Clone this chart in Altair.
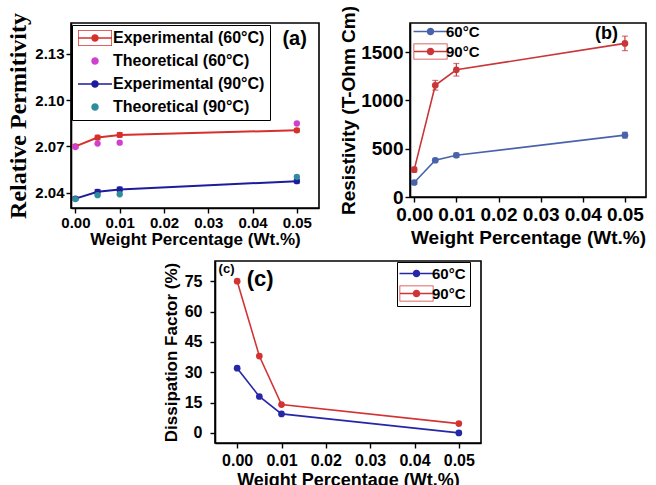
import altair as alt
import pandas as pd

# ---------------- data ----------------
wt = [0.0, 0.005, 0.01, 0.05]
wt_ticks = [0.0, 0.01, 0.02, 0.03, 0.04, 0.05]

# panel (a) relative permittivity
a_series = ["Experimental (60°C)", "Theoretical (60°C)", "Experimental (90°C)", "Theoretical (90°C)"]
a_exp60 = [2.0700, 2.0757, 2.0774, 2.0804]
a_th60 = [2.0695, 2.0718, 2.0724, 2.0848]
a_exp90 = [2.0361, 2.0405, 2.0420, 2.0474]
a_th90 = [2.0358, 2.0383, 2.0389, 2.0502]
a_err = [0.0012, 0.0015, 0.0015, 0.0012]
a_yticks = [2.04, 2.07, 2.10, 2.13]

# panel (b) resistivity
b_series = ["60°C", "90°C"]
b_60 = [150, 380, 432, 640]
b_90 = [283, 1156, 1316, 1589]
b_err60 = [20, 18, 22, 30]
b_err90 = [25, 50, 65, 75]
b_yticks = [0, 500, 1000, 1500]

# panel (c) dissipation factor
c_series = ["60°C", "90°C"]
c_60 = [32, 18, 9.4, 0]
c_90 = [75, 38, 14, 4.6]
c_yticks = [0, 15, 30, 45, 60, 75]

# panel labels (data coordinates)
a_label = {"wt": [0.0495], "v": [2.1398], "t": ["(a)"]}
b_label = {"wt": [0.0456], "v": [1684], "t": ["(b)"]}
c_label_small = {"wt": [-0.0024], "v": [81], "t": ["(c)"]}
c_label_big = {"wt": [0.0052], "v": [76], "t": ["(c)"]}

# ---------------- styles ----------------
SANS = "Liberation Sans"
SERIF = "Liberation Serif"

a_colors = ["#d6302c", "#d040d0", "#1c1c9c", "#2f8c9c"]
b_colors = ["#4a62aa", "#c8363a"]
c_colors = ["#2626a8", "#d23434"]

DOT = "M0.75,0A0.75,0.75 0 1,1 -0.75,0A0.75,0.75 0 1,1 0.75,0Z"
LINE_DOT = ("M-3.4,-0.17L3.4,-0.17L3.4,0.17L-3.4,0.17Z "
            "M0.75,0A0.75,0.75 0 1,1 -0.75,0A0.75,0.75 0 1,1 0.75,0Z")
BOX_LINE_DOT = ("M-3.4,-1.6L3.4,-1.6L3.4,1.6L-3.4,1.6Z "
                "M-3.25,-1.45L-3.25,1.45L3.25,1.45L3.25,-1.45Z "
                "M-3.4,-0.17L3.4,-0.17L3.4,0.17L-3.4,0.17Z "
                "M0.75,0A0.75,0.75 0 1,1 -0.75,0A0.75,0.75 0 1,1 0.75,0Z")

AXIS_COMMON = dict(grid=False, domainColor="black", domainWidth=1.6, tickColor="black",
                   tickWidth=1.4, tickSize=5, labelColor="black", titleColor="black",
                   labelFont=SANS, labelFontWeight="bold", titleFontWeight="bold")


def long_df(series, values, colors, errs=None):
    rows = []
    for i, (s, vals, col) in enumerate(zip(series, values, colors)):
        for j, (x, v) in enumerate(zip(wt, vals)):
            e = errs[i][j] if errs is not None and errs[i] is not None else 0
            rows.append({"wt": x, "v": v, "series": s, "col": col,
                         "lo": v - e, "hi": v + e, "has_err": errs is not None and errs[i] is not None})
    return pd.DataFrame(rows)


def legend_layer(series, colors, shapes, legend):
    df = pd.DataFrame({"series": series})
    return alt.Chart(df).mark_point(filled=True, size=100, opacity=1).encode(
        color=alt.Color("series:N", scale=alt.Scale(domain=series, range=colors), legend=legend),
        shape=alt.Shape("series:N", scale=alt.Scale(domain=series, range=shapes), legend=legend),
    ).transform_filter("false")


def text_layer(d, size, xenc, yenc):
    return alt.Chart(pd.DataFrame(d)).mark_text(
        font=SANS, fontWeight="bold", fontSize=size, color="black", align="center", baseline="middle"
    ).encode(x=xenc, y=yenc, text="t:N")


FRAME = alt.ViewBackground(stroke="black", strokeWidth=1.6)

# ---------------- panel (a) ----------------
da = long_df(a_series, [a_exp60, a_th60, a_exp90, a_th90], a_colors,
             [a_err, None, a_err, None])
xa = alt.X("wt:Q", scale=alt.Scale(domain=[-0.001, 0.055], nice=False, zero=False),
           axis=alt.Axis(values=wt_ticks, format=".2f", title="Weight Percentage (Wt.%)",
                         labelFontSize=15, titleFont=SANS, titleFontSize=17, labelPadding=2,
                         titlePadding=1, **AXIS_COMMON))
ya = alt.Y("v:Q", scale=alt.Scale(domain=[2.03, 2.15], nice=False, zero=False),
           axis=alt.Axis(values=a_yticks, format=".2f", title="Relative Permitivity",
                         labelFontSize=15, titleFont=SERIF, titleFontSize=24, titlePadding=4,
                         **AXIS_COMMON))
base_a = alt.Chart(da).encode(x=xa, y=ya, color=alt.Color("col:N", scale=None))
lines_a = base_a.transform_filter("datum.has_err").mark_line(strokeWidth=2).encode(detail="series:N")
err_a = base_a.transform_filter("datum.has_err").mark_errorbar(ticks={"size": 6}, thickness=1.2).encode(
    y=alt.Y("lo:Q", title="Relative Permitivity"), y2="hi:Q")
pts_a = base_a.mark_point(filled=True, size=40, opacity=1)
leg_a = legend_layer(a_series, a_colors, [BOX_LINE_DOT, DOT, LINE_DOT, DOT],
                     alt.Legend(title=None, orient="none", legendX=1, legendY=2,
                                strokeColor="black", fillColor="white", padding=5,
                                labelFont=SANS, labelFontWeight="bold", labelFontSize=16,
                                labelColor="black", symbolSize=100, symbolOffset=10,
                                labelOffset=10, rowPadding=7, symbolStrokeWidth=0))
panel_a = alt.layer(lines_a, err_a, pts_a, leg_a, text_layer(a_label, 20, xa, ya)).properties(
    width=248, height=185, view=FRAME).resolve_scale(color="independent", shape="independent")

# ---------------- panel (b) ----------------
db = long_df(b_series, [b_60, b_90], b_colors, [b_err60, b_err90])
xb = alt.X("wt:Q", scale=alt.Scale(domain=[-0.001, 0.055], nice=False, zero=False),
           axis=alt.Axis(values=wt_ticks, format=".2f", title="Weight Percentage (Wt.%)",
                         labelFontSize=19, titleFont=SANS, titleFontSize=19, labelPadding=3,
                         titlePadding=4, **AXIS_COMMON))
yb = alt.Y("v:Q", scale=alt.Scale(domain=[0, 1800], nice=False),
           axis=alt.Axis(values=b_yticks, format="d", title="Resistivity (T-Ohm Cm)",
                         labelFontSize=19, titleFont=SANS, titleFontSize=19, titlePadding=2,
                         **AXIS_COMMON))
base_b = alt.Chart(db).encode(x=xb, y=yb, color=alt.Color("col:N", scale=None))
lines_b = base_b.mark_line(strokeWidth=1.6).encode(detail="series:N")
err_b = base_b.mark_errorbar(ticks={"size": 6}, thickness=1.2).encode(
    y=alt.Y("lo:Q", title="Resistivity (T-Ohm Cm)"), y2="hi:Q")
pts_b = base_b.mark_point(filled=True, size=45, opacity=1)
leg_b = legend_layer(b_series, b_colors, [LINE_DOT, BOX_LINE_DOT],
                     alt.Legend(title=None, orient="none", legendX=2, legendY=-2,
                                padding=3, labelFont=SANS, labelFontWeight="bold", labelFontSize=15,
                                labelColor="black", symbolSize=100, symbolOffset=8,
                                labelOffset=8, rowPadding=3, symbolStrokeWidth=0))
panel_b = alt.layer(lines_b, err_b, pts_b, leg_b, text_layer(b_label, 18, xb, yb)).properties(
    width=236, height=174, view=FRAME).resolve_scale(color="independent", shape="independent")

# ---------------- panel (c) ----------------
dc = long_df(c_series, [c_60, c_90], c_colors)
xc = alt.X("wt:Q", scale=alt.Scale(domain=[-0.005, 0.055], nice=False, zero=False),
           axis=alt.Axis(values=wt_ticks, format=".2f", title="Weight Percentage (Wt.%)",
                         labelFontSize=16, titleFont=SANS, titleFontSize=18, labelPadding=4,
                         titlePadding=3, **AXIS_COMMON))
yc = alt.Y("v:Q", scale=alt.Scale(domain=[-5, 85], nice=False, zero=False),
           axis=alt.Axis(values=c_yticks, format="d", title="Dissipation Factor (%)",
                         labelFontSize=16, titleFont=SANS, titleFontSize=17, labelPadding=8,
                         titlePadding=4, **AXIS_COMMON))
base_c = alt.Chart(dc).encode(x=xc, y=yc, color=alt.Color("col:N", scale=None))
lines_c = base_c.mark_line(strokeWidth=1.6).encode(detail="series:N")
pts_c = base_c.mark_point(filled=True, size=45, opacity=1)
leg_c = legend_layer(c_series, c_colors, [LINE_DOT, BOX_LINE_DOT],
                     alt.Legend(title=None, orient="none", legendX=182, legendY=1,
                                strokeColor="black", fillColor="white", padding=4,
                                labelFont=SANS, labelFontWeight="bold", labelFontSize=15,
                                labelColor="black", symbolSize=100, symbolOffset=8,
                                labelOffset=8, rowPadding=3, symbolStrokeWidth=0))
panel_c = alt.layer(lines_c, pts_c, leg_c, text_layer(c_label_small, 13, xc, yc),
                    text_layer(c_label_big, 22, xc, yc)).properties(
    width=266, height=182, view=FRAME).resolve_scale(color="independent", shape="independent")

spacer = alt.Chart(pd.DataFrame({"s": [0]})).mark_point(opacity=0).encode(
    x=alt.X("s:Q", axis=None), y=alt.Y("s:Q", axis=None)
).properties(width=144, height=10, view=alt.ViewBackground(strokeOpacity=0))

row1 = alt.hconcat(panel_a, panel_b, spacing=91, bounds="flush").resolve_scale(
    color="independent", shape="independent")
row2 = alt.hconcat(spacer, panel_c, spacing=0, bounds="flush").resolve_scale(
    color="independent", shape="independent")

chart = alt.vconcat(row1, row2, spacing=12).resolve_scale(
    color="independent", shape="independent"
).properties(
    padding={"left": 6, "top": 4, "right": 0, "bottom": 0}
).configure_view(stroke="black", strokeWidth=1.6).configure_axis(**AXIS_COMMON).configure(
    background="white")

chart.save("out.html", embed_options={"renderer": "svg", "actions": False})
